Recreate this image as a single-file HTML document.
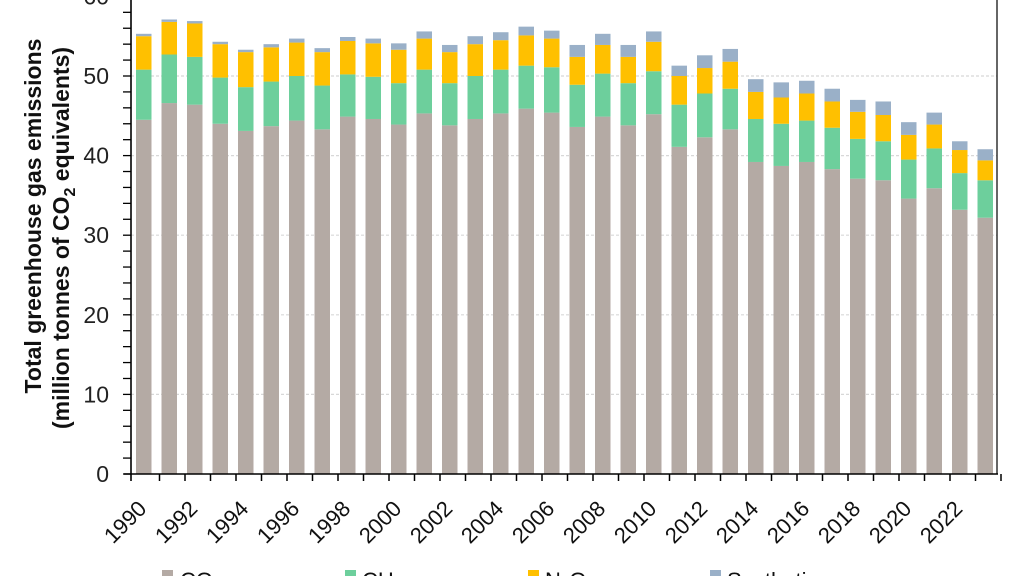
<!DOCTYPE html>
<html><head><meta charset="utf-8"><style>
html,body{margin:0;padding:0;background:#fff;}
svg{display:block;font-family:"Liberation Sans",Arial,sans-serif;}
</style></head><body>
<svg width="1024" height="576" viewBox="0 0 1024 576">
<g id="grid" stroke="#d8d8d8" stroke-width="1.2" stroke-dasharray="3,2"></g>
<g id="bars"></g>
<g id="axes"></g>
<g font-size="23" fill="#222" text-anchor="end" id="ylab"></g>
<g font-size="22" fill="#111" id="xlab"></g>
<text transform="translate(41,216) rotate(-90)" text-anchor="middle" font-size="23" font-weight="bold" fill="#111">Total greenhouse gas emissions</text>
<text transform="translate(69,238) rotate(-90)" text-anchor="middle" font-size="23" font-weight="bold" fill="#111">(million tonnes of CO<tspan font-size="16" dy="6">2</tspan><tspan dy="-6"> equivalents)</tspan></text>
<g font-size="22" fill="#111">
<rect x="162" y="570" width="11" height="11" fill="#b4aaa4"/><text x="180" y="588">CO₂</text>
<rect x="345" y="570" width="11" height="11" fill="#6dcf9c"/><text x="362" y="588">CH₄</text>
<rect x="528" y="570" width="11" height="11" fill="#ffc000"/><text x="545" y="588">N₂O</text>
<rect x="710" y="570" width="11" height="11" fill="#9ab0c8"/><text x="727" y="588">Synthetic</text>
</g>
<script>
var d=[[44.5,50.8,55.0,55.3],[46.6,52.7,56.8,57.1],[46.4,52.4,56.6,56.9],[44.0,49.8,54.0,54.3],[43.1,48.6,53.0,53.3],[43.7,49.3,53.6,54.0],[44.4,50.0,54.2,54.7],[43.3,48.8,53.0,53.5],[44.9,50.2,54.4,54.9],[44.6,49.9,54.1,54.7],[43.9,49.1,53.3,54.1],[45.3,50.8,54.7,55.6],[43.8,49.1,53.0,53.9],[44.6,50.0,54.0,55.0],[45.3,50.8,54.5,55.5],[45.9,51.3,55.1,56.2],[45.4,51.1,54.7,55.7],[43.6,48.9,52.4,53.9],[44.9,50.3,53.9,55.3],[43.8,49.1,52.4,53.9],[45.2,50.6,54.3,55.6],[41.1,46.4,50.0,51.3],[42.3,47.8,51.0,52.6],[43.3,48.4,51.8,53.4],[39.2,44.6,48.0,49.6],[38.7,44.0,47.3,49.2],[39.2,44.4,47.8,49.4],[38.3,43.5,46.8,48.4],[37.1,42.1,45.5,47.0],[36.9,41.8,45.1,46.8],[34.6,39.5,42.6,44.2],[35.9,40.9,43.9,45.4],[33.2,37.8,40.7,41.8],[32.2,36.9,39.4,40.8]];
var ns="http://www.w3.org/2000/svg",cols=["#b4aaa4","#6dcf9c","#ffc000","#9ab0c8"];
function Y(v){return 474-v*7.96;}
function el(p,t,a,txt){var e=document.createElementNS(ns,t);for(var k in a)e.setAttribute(k,a[k]);if(txt!=null)e.textContent=txt;document.getElementById(p).appendChild(e);return e;}
for(var v=10;v<=60;v+=10)el("grid","line",{x1:131,x2:997,y1:Y(v),y2:Y(v)});
var sp=25.5;
d.forEach(function(r,i){var x=136+i*sp,prev=0;for(var j=0;j<4;j++){el("bars","rect",{x:x,y:Y(r[j]),width:15.5,height:Y(prev)-Y(r[j]),fill:cols[j]});prev=r[j];}
 var cx=x+7.75,tx=x+sp-2;el("axes","line",{x1:tx,x2:tx,y1:474,y2:481,stroke:"#000","stroke-width":1.5});
 if(i%2==0){el("xlab","text",{x:0,y:0,"text-anchor":"end",transform:"translate("+(cx+4)+",510) rotate(-45)"},String(1990+i));}
});
el("axes","line",{x1:131,x2:131,y1:0,y2:481,stroke:"#000","stroke-width":1.6});
el("axes","line",{x1:124,x2:998,y1:474,y2:474,stroke:"#000","stroke-width":1.6});
el("axes","line",{x1:997,x2:997,y1:0,y2:474,stroke:"#000","stroke-width":1.2});
for(var v=0;v<=60;v+=2){el("axes","line",{x1:123,x2:131,y1:Y(v),y2:Y(v),stroke:"#000","stroke-width":1.3});}
for(var v=0;v<=60;v+=10)el("ylab","text",{x:109,y:Y(v)+8},String(v));
</script>
</svg>
</body></html>
